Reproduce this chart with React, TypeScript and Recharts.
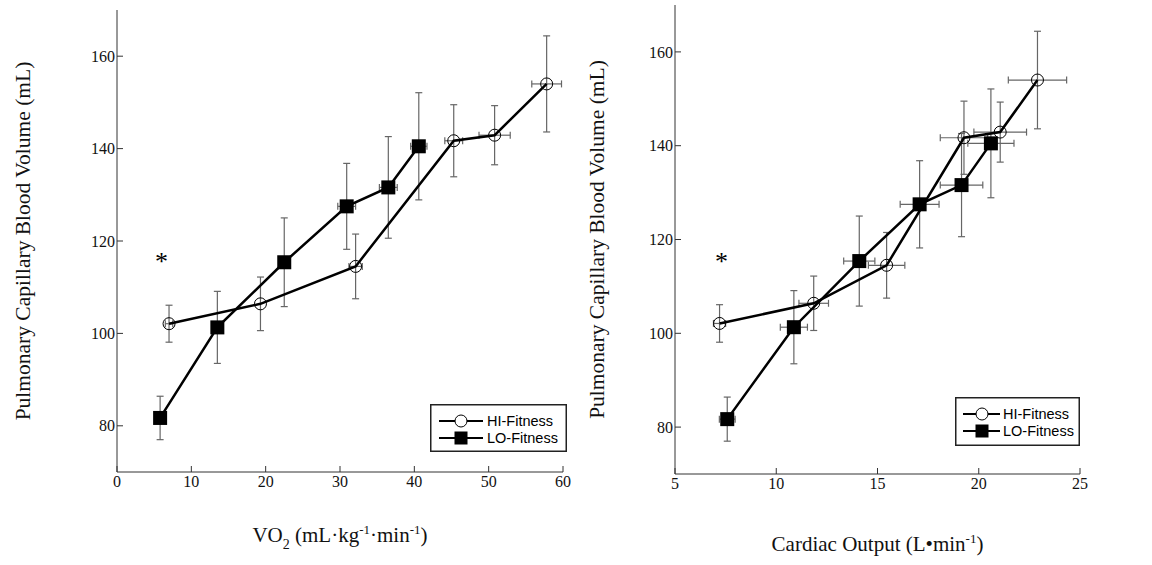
import { ScatterChart, Scatter, XAxis, YAxis, ErrorBar, Legend } from "recharts"

// values (means and SD)
const hiVo2 = [7.0, 19.3, 32.1, 45.3, 50.8, 57.8]
const hiVo2Err = [0.5, 0, 0.9, 1.2, 2.1, 2.0]
const loVo2 = [5.8, 13.5, 22.5, 30.9, 36.5, 40.6]
const loVo2Err = [0, 0, 0, 1.2, 1.2, 1.1]

const hiQ = [7.2, 11.85, 15.45, 19.27, 21.06, 22.9]
const hiQErr = [0.3, 0.73, 0.9, 1.17, 1.3, 1.44]
const loQ = [7.58, 10.87, 14.1, 17.08, 19.15, 20.6]
const loQErr = [0.39, 0.67, 0.77, 0.96, 1.05, 1.14]

const hiVc = [102.1, 106.4, 114.5, 141.7, 142.9, 154.0]
const hiVcErr = [4.0, 5.8, 7.0, 7.8, 6.4, 10.4]
const loVc = [81.7, 101.3, 115.4, 127.5, 131.6, 140.5]
const loVcErr = [4.7, 7.8, 9.6, 9.3, 11.0, 11.6]

const vo2Ticks = [0, 10, 20, 30, 40, 50, 60]
const qTicks = [5, 10, 15, 20, 25]
const vcTicks = [80, 100, 120, 140, 160]
const seriesNames = ["HI-Fitness", "LO-Fitness"]
const starVo2 = [{ x: 6.0, y: 116.4 }]
const starQ = [{ x: 7.3, y: 116.0 }]

const toRows = (xs: number[], xe: number[], ys: number[], ye: number[]) =>
  xs.map((x, i) => ({ x, ex: xe[i], y: ys[i], ey: ye[i] }))

const SERIF = '"Liberation Serif", "Times New Roman", serif'
const SANS = '"Liberation Sans", Arial, sans-serif'
const AXIS = "#333"
const ERR = "#666"

const serifText = (size: number) => ({ fontFamily: SERIF, fontSize: size })

const OpenCircle = (p: any) => (
  <circle cx={p.cx} cy={p.cy} r={6} fill="none" stroke="#000" strokeWidth={1} />
)
const FilledSquare = (p: any) => (
  <rect x={p.cx - 7} y={p.cy - 7} width={14} height={14} fill="#000" />
)
const Star = (p: any) => (
  <text x={p.cx} y={p.cy + 12} textAnchor="middle" style={serifText(26)} fill="#000">
    *
  </text>
)

// ticks point inward (negative tickSize), labels pushed back out with tickMargin
const tickFont = { fontFamily: SERIF, fontSize: 16, fill: "#111" }

type LegendBox = { left: number; top: number; w: number; h: number; l1: number; l2: number; mk: number; tx: number }

const makeLegend = (b: LegendBox) => () => (
  <svg width={b.w} height={b.h} style={{ display: "block" }}>
    <rect x={0.75} y={0.75} width={b.w - 1.5} height={b.h - 1.5} fill="#fff" stroke="#222" strokeWidth={1.5} />
    {seriesNames.map((name, i) => {
      const cy = 17 + i * 17
      return (
        <g key={name}>
          <line x1={b.l1} y1={cy} x2={b.l2} y2={cy} stroke="#000" strokeWidth={2} />
          {i === 0 ? (
            <circle cx={b.mk} cy={cy} r={6} fill="#fff" stroke="#000" strokeWidth={1} />
          ) : (
            <rect x={b.mk - 6.5} y={cy - 6.5} width={13} height={13} fill="#000" />
          )}
          <text x={b.tx} y={cy + 5} style={{ fontFamily: SANS, fontSize: 14.5 }} fill="#000">
            {name}
          </text>
        </g>
      )
    })}
  </svg>
)

type PanelProps = {
  left: number
  width: number
  margin: { top: number; right: number; bottom: number; left: number }
  xDomain: [number, number]
  xTicks: number[]
  hi: any[]
  lo: any[]
  star: any[]
  yLabelGap: number
  xLabelDrop: number
  xLabel: (x: number, y: number) => any
  legend: LegendBox
}

function Panel(p: PanelProps) {
  const yLabel = (props: any) => {
    const vb = props.viewBox || {}
    const cx = vb.x + vb.width - p.yLabelGap
    const cy = vb.y + vb.height / 2
    return (
      <text
        x={cx}
        y={cy}
        transform={`rotate(-90, ${cx}, ${cy})`}
        textAnchor="middle"
        dominantBaseline="central"
        style={serifText(21.5)}
        fill="#111"
      >
        Pulmonary Capillary Blood Volume (mL)
      </text>
    )
  }
  const xLabel = (props: any) => {
    const vb = props.viewBox || {}
    return p.xLabel(vb.x + vb.width / 2, vb.y + p.xLabelDrop)
  }
  return (
    <div style={{ position: "absolute", left: p.left, top: 0 }}>
      <ScatterChart width={p.width} height={565} margin={p.margin}>
        <XAxis
          type="number"
          dataKey="x"
          domain={p.xDomain}
          ticks={p.xTicks}
          allowDataOverflow
          height={40}
          tickSize={-6}
          tickMargin={10}
          tickLine={{ stroke: AXIS }}
          tick={tickFont}
          stroke={AXIS}
          label={xLabel}
        />
        <YAxis
          type="number"
          dataKey="y"
          domain={[70, 170]}
          ticks={vcTicks}
          allowDataOverflow
          width={60}
          tickSize={-6}
          tickMargin={8}
          tickLine={{ stroke: AXIS }}
          tick={tickFont}
          stroke={AXIS}
          label={yLabel}
        />
        <Legend
          layout="vertical"
          align="center"
          verticalAlign="middle"
          content={makeLegend(p.legend)}
          wrapperStyle={{ left: p.legend.left, top: p.legend.top, width: p.legend.w, height: p.legend.h }}
        />
        <Scatter
          name={seriesNames[1]}
          data={p.lo}
          line={{ stroke: "#000", strokeWidth: 2.5 }}
          shape={FilledSquare}
          isAnimationActive={false}
        >
          <ErrorBar dataKey="ey" direction="y" width={3.5} stroke={ERR} strokeWidth={1.2} />
          <ErrorBar dataKey="ex" direction="x" width={3.5} stroke={ERR} strokeWidth={1.2} />
        </Scatter>
        <Scatter
          name={seriesNames[0]}
          data={p.hi}
          line={{ stroke: "#000", strokeWidth: 2.5 }}
          shape={OpenCircle}
          isAnimationActive={false}
        >
          <ErrorBar dataKey="ey" direction="y" width={3.5} stroke={ERR} strokeWidth={1.2} />
          <ErrorBar dataKey="ex" direction="x" width={3.5} stroke={ERR} strokeWidth={1.2} />
        </Scatter>
        <Scatter name="sig" data={p.star} shape={Star} isAnimationActive={false} legendType="none" />
      </ScatterChart>
    </div>
  )
}

const vo2Label = (x: number, y: number) => (
  <text x={x} y={y} textAnchor="middle" style={serifText(21)} fill="#111">
    VO
    <tspan dy={7} style={{ fontSize: 14 }}>2</tspan>
    <tspan dy={-7}> (mL·kg</tspan>
    <tspan dy={-8} style={{ fontSize: 13 }}>-1</tspan>
    <tspan dy={8}>·min</tspan>
    <tspan dy={-8} style={{ fontSize: 13 }}>-1</tspan>
    <tspan dy={8}>)</tspan>
  </text>
)

const qLabel = (x: number, y: number) => (
  <text x={x} y={y} textAnchor="middle" style={serifText(21)} fill="#111">
    Cardiac Output (L•min
    <tspan dy={-8} style={{ fontSize: 13 }}>-1</tspan>
    <tspan dy={8}>)</tspan>
  </text>
)

export default function App() {
  return (
    <div style={{ position: "absolute", left: 0, top: 0, width: 1152, height: 565, background: "#fff" }}>
      <Panel
        left={0}
        width={580}
        margin={{ top: 10, right: 17, bottom: 53, left: 57 }}
        xDomain={[0, 60]}
        xTicks={vo2Ticks}
        hi={toRows(hiVo2, hiVo2Err, hiVc, hiVcErr)}
        lo={toRows(loVo2, loVo2Err, loVc, loVcErr)}
        star={starVo2}
        yLabelGap={94}
        xLabelDrop={70}
        xLabel={vo2Label}
        legend={{ left: 430, top: 404, w: 137, h: 48, l1: 9, l2: 53, mk: 31, tx: 57 }}
      />
      <Panel
        left={580}
        width={572}
        margin={{ top: 5, right: 72, bottom: 51, left: 35 }}
        xDomain={[5, 25]}
        xTicks={qTicks}
        hi={toRows(hiQ, hiQErr, hiVc, hiVcErr)}
        lo={toRows(loQ, loQErr, loVc, loVcErr)}
        star={starQ}
        yLabelGap={78}
        xLabelDrop={77}
        xLabel={qLabel}
        legend={{ left: 375, top: 397, w: 125, h: 49, l1: 8, l2: 45, mk: 27, tx: 48 }}
      />
    </div>
  )
}
